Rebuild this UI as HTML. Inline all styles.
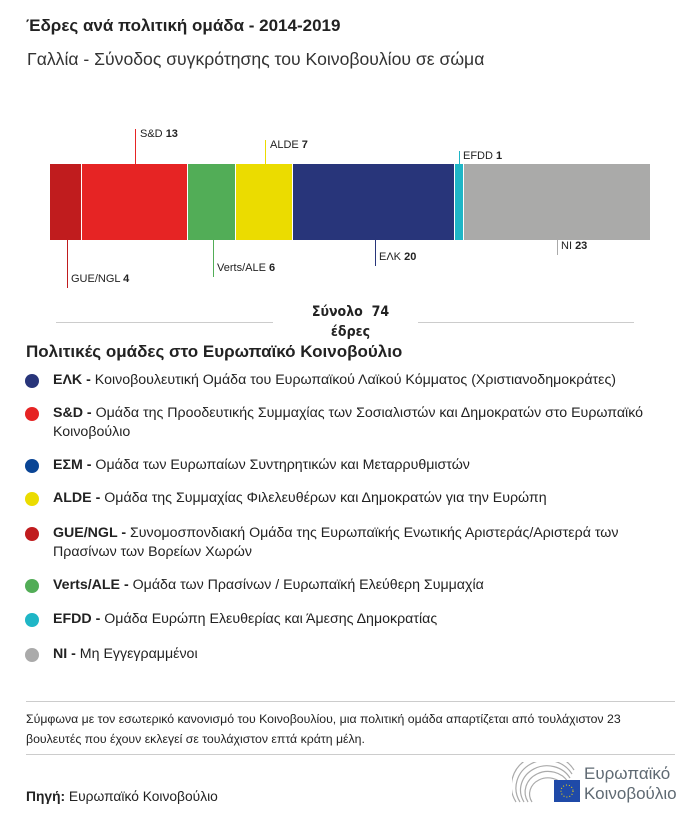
<!DOCTYPE html>
<html><head><meta charset="utf-8"><style>
body{margin:0;width:700px;height:822px;background:#fff;font-family:"Liberation Sans","Noto Sans CJK SC",sans-serif;color:#222;position:relative;overflow:hidden}
.a{position:absolute;white-space:nowrap}
.seg{position:absolute;top:164px;height:76px}
.vl{position:absolute;width:1px}
.lb{position:absolute;font-size:11px;white-space:nowrap}
.dot{position:absolute;left:25px;width:14px;height:14px;border-radius:50%}
.lt{position:absolute;left:53px;font-size:14.2px;line-height:19px;width:600px}
</style></head><body>
<div class="a" style="left:26px;top:16px;font-size:17px;font-weight:bold">Έδρες ανά πολιτική ομάδα - 2014-2019</div>
<div class="a" style="left:27px;top:49px;font-size:17.6px;color:#333">Γαλλία - Σύνοδος συγκρότησης του Κοινοβουλίου σε σώμα</div>

<div class="seg" style="left:50px;width:31px;background:#c01c1e"></div>
<div class="seg" style="left:82px;width:105px;background:#e62424"></div>
<div class="seg" style="left:188px;width:47px;background:#52ad57"></div>
<div class="seg" style="left:236px;width:56px;background:#ebdc00"></div>
<div class="seg" style="left:293px;width:161px;background:#28357a"></div>
<div class="seg" style="left:455px;width:8px;background:#1fb6c6"></div>
<div class="seg" style="left:464px;width:186px;background:#aaaaa9"></div>

<div class="vl" style="left:135px;top:129px;height:35px;background:#e62424"></div>
<div class="lb" style="left:140px;top:128px">S&amp;D <b>13</b></div>
<div class="vl" style="left:265px;top:140px;height:24px;background:#ebdc00"></div>
<div class="lb" style="left:270px;top:139px">ALDE <b>7</b></div>
<div class="vl" style="left:459px;top:151px;height:13px;background:#1fb6c6"></div>
<div class="lb" style="left:463px;top:150px">EFDD <b>1</b></div>
<div class="vl" style="left:67px;top:240px;height:48px;background:#c01c1e"></div>
<div class="lb" style="left:71px;top:273px">GUE/NGL <b>4</b></div>
<div class="vl" style="left:213px;top:240px;height:37px;background:#52ad57"></div>
<div class="lb" style="left:217px;top:262px">Verts/ALE <b>6</b></div>
<div class="vl" style="left:375px;top:240px;height:26px;background:#28357a"></div>
<div class="lb" style="left:379px;top:251px">ΕΛΚ <b>20</b></div>
<div class="vl" style="left:557px;top:240px;height:15px;background:#aaa"></div>
<div class="lb" style="left:561px;top:240px">NI <b>23</b></div>

<div class="a" style="left:56px;top:322px;width:217px;height:1px;background:#ccc"></div>
<div class="a" style="left:418px;top:322px;width:216px;height:1px;background:#ccc"></div>
<div class="a" style="left:273px;top:302px;width:155px;text-align:center;font-size:14px;font-weight:bold;line-height:20px;font-family:'DejaVu Sans Condensed','DejaVu Sans',sans-serif">Σύνολο&nbsp; 74<br>έδρες</div>

<div class="a" style="left:26px;top:342px;font-size:17px;font-weight:bold">Πολιτικές ομάδες στο Ευρωπαϊκό Κοινοβούλιο</div>

<div class="dot" style="top:374px;background:#28357a"></div><div class="lt" style="top:371px"><b>ΕΛΚ -</b> Κοινοβουλευτική Ομάδα του Ευρωπαϊκού Λαϊκού Κόμματος (Χριστιανοδημοκράτες)</div>
<div class="dot" style="top:407px;background:#e62424"></div><div class="lt" style="top:404px"><b>S&amp;D -</b> Ομάδα της Προοδευτικής Συμμαχίας των Σοσιαλιστών και Δημοκρατών στο Ευρωπαϊκό Κοινοβούλιο</div>
<div class="dot" style="top:459px;background:#0a4595"></div><div class="lt" style="top:456px"><b>ΕΣΜ -</b> Ομάδα των Ευρωπαίων Συντηρητικών και Μεταρρυθμιστών</div>
<div class="dot" style="top:492px;background:#ebdc00"></div><div class="lt" style="top:489px"><b>ALDE -</b> Ομάδα της Συμμαχίας Φιλελευθέρων και Δημοκρατών για την Ευρώπη</div>
<div class="dot" style="top:527px;background:#c01c1e"></div><div class="lt" style="top:524px"><b>GUE/NGL -</b> Συνομοσπονδιακή Ομάδα της Ευρωπαϊκής Ενωτικής Αριστεράς/Αριστερά των Πρασίνων των Βορείων Χωρών</div>
<div class="dot" style="top:579px;background:#52ad57"></div><div class="lt" style="top:576px"><b>Verts/ALE -</b> Ομάδα των Πρασίνων / Ευρωπαϊκή Ελεύθερη Συμμαχία</div>
<div class="dot" style="top:613px;background:#1fb6c6"></div><div class="lt" style="top:610px"><b>EFDD -</b> Ομάδα Ευρώπη Ελευθερίας και Άμεσης Δημοκρατίας</div>
<div class="dot" style="top:648px;background:#aaa"></div><div class="lt" style="top:645px"><b>NI -</b> Μη Εγγεγραμμένοι</div>

<div class="a" style="left:26px;top:701px;width:649px;height:1px;background:#ccc"></div>
<div class="a" style="left:26px;top:709px;font-size:12.3px;line-height:20px">Σύμφωνα με τον εσωτερικό κανονισμό του Κοινοβουλίου, μια πολιτική ομάδα απαρτίζεται από τουλάχιστον 23<br>βουλευτές που έχουν εκλεγεί σε τουλάχιστον επτά κράτη μέλη.</div>
<div class="a" style="left:26px;top:754px;width:649px;height:1px;background:#ccc"></div>
<div class="a" style="left:26px;top:789px;font-size:13.8px"><b>Πηγή:</b> Ευρωπαϊκό Κοινοβούλιο</div>

<svg class="a" style="left:512px;top:762px" width="70" height="42">
<g fill="none" stroke="#aaa" stroke-width="1.2">
<path d="M4 40 A32 30 0 0 1 62 8"/><path d="M8 40 A28 26 0 0 1 60 12"/><path d="M12 40 A24 22 0 0 1 58 16"/><path d="M16 40 A20 18 0 0 1 56 20"/><path d="M20 40 A16 14 0 0 1 52 24"/></g>
<rect x="42" y="18" width="26" height="22" fill="#1f4aa8"/>
<circle cx="55" cy="29" r="6" fill="none" stroke="#ffdd00" stroke-dasharray="1 2"/>
</svg>
<div class="a" style="left:584px;top:764px;font-size:17px;line-height:20px;color:#5f6a73">Ευρωπαϊκό<br>Κοινοβούλιο</div>
</body></html>
